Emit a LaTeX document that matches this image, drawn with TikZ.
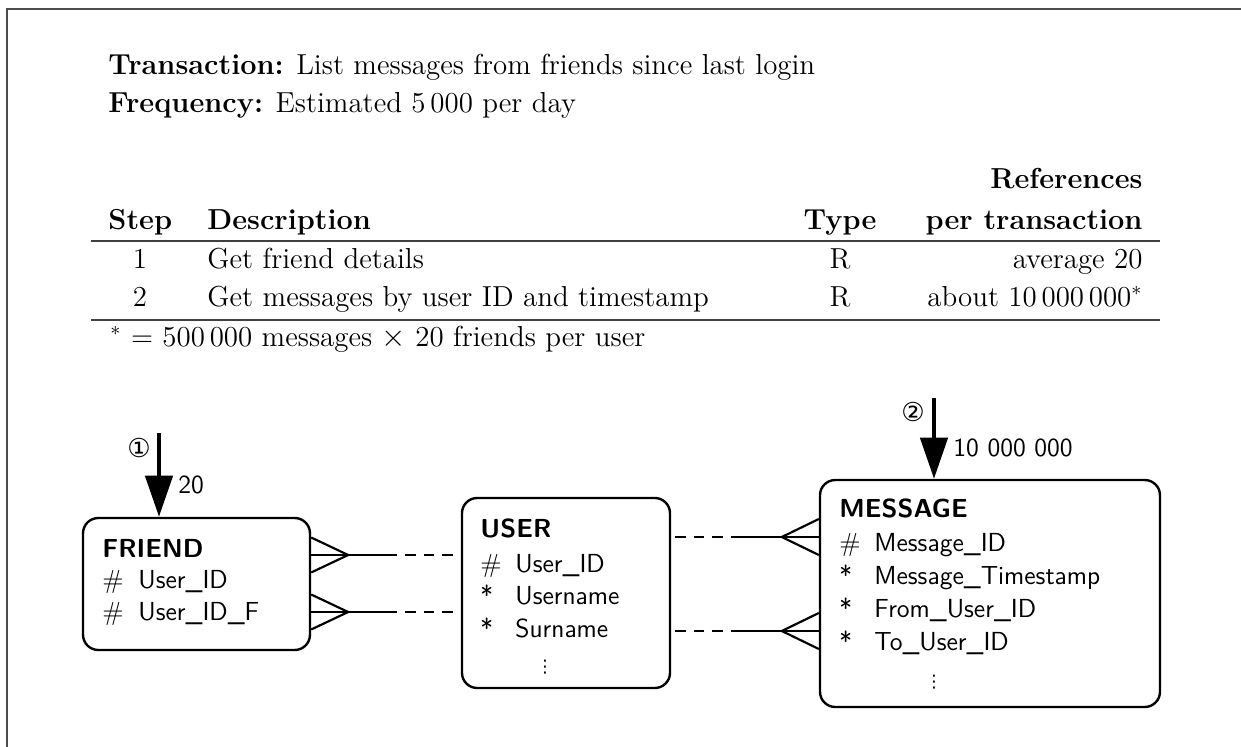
\documentclass[tikz,border=0pt]{standalone}
\usepackage{fontspec}
\newfontfamily\circfont{DejaVu Sans}
\usetikzlibrary{arrows.meta}
\usetikzlibrary{calc}
\newcommand{\keysym}{\textrm{\#}}
\tikzset{
      txt/.style={anchor=base west, inner sep=0pt, font=\fontsize{13.3}{16}\selectfont},
      field/.style={anchor=base west, inner sep=0pt, font=\sffamily\fontsize{12}{14}\selectfont},
      etitle/.style={field, font=\sffamily\bfseries\fontsize{12}{14}\selectfont},
      moredots/.style={inner sep=0pt, font=\circfont\fontsize{8}{9}\selectfont},
      entity/.style={draw, rounded corners=7pt, line width=1.1pt, inner sep=0pt},
      rel/.style={line width=1pt},
      optional/.style={line width=1pt, dash pattern=on 5pt off 3.6pt},
      access/.style={line width=2pt, -{Triangle[length=19pt,width=12.5pt]}},
      stepno/.style={inner sep=0pt, font=\circfont\fontsize{12}{13}\selectfont},
      hrule/.style={line width=0.6pt, draw=black!75},
      frame/.style={line width=0.6pt, draw=black!70},
}
\begin{document}
\begin{tikzpicture}[x=0.46pt,y=-0.46pt]
        \useasboundingbox (0,0) rectangle (1241,747);
        \draw[frame] (7,747) -- (7,9) -- (1241,9);

        % transaction header
        \node[txt] (trans) at (108,75) {\textbf{Transaction:} List messages from friends since last login};
        \node[txt] (freq) at (108,113) {\textbf{Frequency:} Estimated 5\,000 per day};

        % table
        \node[txt, anchor=base east] (refs) at (1143,189) {\textbf{References}};
        \node[txt] (hstep) at (108,230) {\textbf{Step}};
        \node[txt] (hdesc) at (207,230) {\textbf{Description}};
        \node[txt, anchor=base] (htype) at (840,230) {\textbf{Type}};
        \node[txt, anchor=base east] (hrefs) at (1143,230) {\textbf{per transaction}};
        \draw[hrule] (91,241) -- (1160,241);
        \node[txt, anchor=base] (s1) at (140,269) {1};
        \node[txt] (d1) at (207,269) {Get friend details};
        \node[txt, anchor=base] (t1) at (840,269) {R};
        \node[txt, anchor=base east] (r1) at (1143,269) {average 20};
        \node[txt, anchor=base] (s2) at (140,307) {2};
        \node[txt] (d2) at (207,307) {Get messages by user ID and timestamp};
        \node[txt, anchor=base] (t2) at (840,307) {R};
        \node[txt, anchor=base east] (r2) at (1143,307) {about 10\,000\,000$^*$};
        \draw[hrule] (91,320) -- (1160,320);
        \node[txt] (note) at (110,347) {$^*$ = 500\,000 messages $\times$ 20 friends per user};

        % entities
        \node[entity, minimum width=104.4pt, minimum height=60.7pt] (friend) at (196.5,584) {};
        \node[etitle] (friendt) at (102,557) {FRIEND};
        \node[field] (fk1) at (102,588) {\keysym};
        \node[field] (fa1) at (138,588) {User\_ID};
        \node[field] (fk2) at (102,620) {\keysym};
        \node[field] (fa2) at (138,620) {User\_ID\_F};

        \node[entity, minimum width=95.7pt, minimum height=87.4pt] (user) at (566,593) {};
        \node[etitle] (usert) at (480,537) {USER};
        \node[field] (uk1) at (480,572) {\keysym};
        \node[field] (ua1) at (515,572) {User\_ID};
        \node[field] (uk2) at (480,604) {*};
        \node[field] (ua2) at (515,604) {Username};
        \node[field] (uk3) at (480,637) {*};
        \node[field] (ua3) at (515,637) {Surname};
        \node[moredots] (umore) at (545,667) {⋮};

        \node[entity, minimum width=156.4pt, minimum height=104.4pt] (message) at (990,593.5) {};
        \node[etitle] (messaget) at (839,518) {MESSAGE};
        \node[field] (mk1) at (839,552) {\keysym};
        \node[field] (ma1) at (874,552) {Message\_ID};
        \node[field] (mk2) at (839,584.5) {*};
        \node[field] (ma2) at (874,584.5) {Message\_Timestamp};
        \node[field] (mk3) at (839,617) {*};
        \node[field] (ma3) at (874,617) {From\_User\_ID};
        \node[field] (mk4) at (839,650) {*};
        \node[field] (ma4) at (874,650) {To\_User\_ID};
        \node[moredots] (mmore) at (934,682) {⋮};

        % relationships
        \coordinate (fu1) at (friend.east |- 0,555);
        \coordinate (fu2) at (friend.east |- 0,612);
        \coordinate (mu1) at (message.west |- 0,537);
        \coordinate (mu2) at (message.west |- 0,631);

        \draw[rel] ($(fu1)+(0,-17.5)$) -- ($(fu1)+(37,0)$) -- ($(fu1)+(0,17.5)$);
        \draw[rel] (fu1) -- ++(75,0) coordinate (fu1d);
        \draw[optional] (fu1d) -- (user.west |- fu1);

        \draw[rel] ($(fu2)+(0,-17.5)$) -- ($(fu2)+(37,0)$) -- ($(fu2)+(0,17.5)$);
        \draw[rel] (fu2) -- ++(75,0) coordinate (fu2d);
        \draw[optional] (fu2d) -- (user.west |- fu2);

        \draw[rel] ($(mu1)+(0,-18)$) -- ($(mu1)+(-37,0)$) -- ($(mu1)+(0,18)$);
        \draw[rel] (mu1) -- ++(-77,0) coordinate (mu1d);
        \draw[optional] (mu1d) -- (user.east |- mu1);

        \draw[rel] ($(mu2)+(0,-18)$) -- ($(mu2)+(-37,0)$) -- ($(mu2)+(0,18)$);
        \draw[rel] (mu2) -- ++(-77,0) coordinate (mu2d);
        \draw[optional] (mu2d) -- (user.east |- mu2);

        % access paths
        \coordinate (acc1) at (159,433);
        \draw[access] (acc1) -- (friend.north -| acc1);
        \node[stepno] (n1) at (139,448) {①};
        \node[field] (c1) at (178,493) {20};

        \coordinate (acc2) at (934,398);
        \draw[access] (acc2) -- (message.north -| acc2);
        \node[stepno] (n2) at (913,412) {②};
        \node[field] (c2) at (953,457) {10 000 000};

    \end{tikzpicture}
\end{document}
